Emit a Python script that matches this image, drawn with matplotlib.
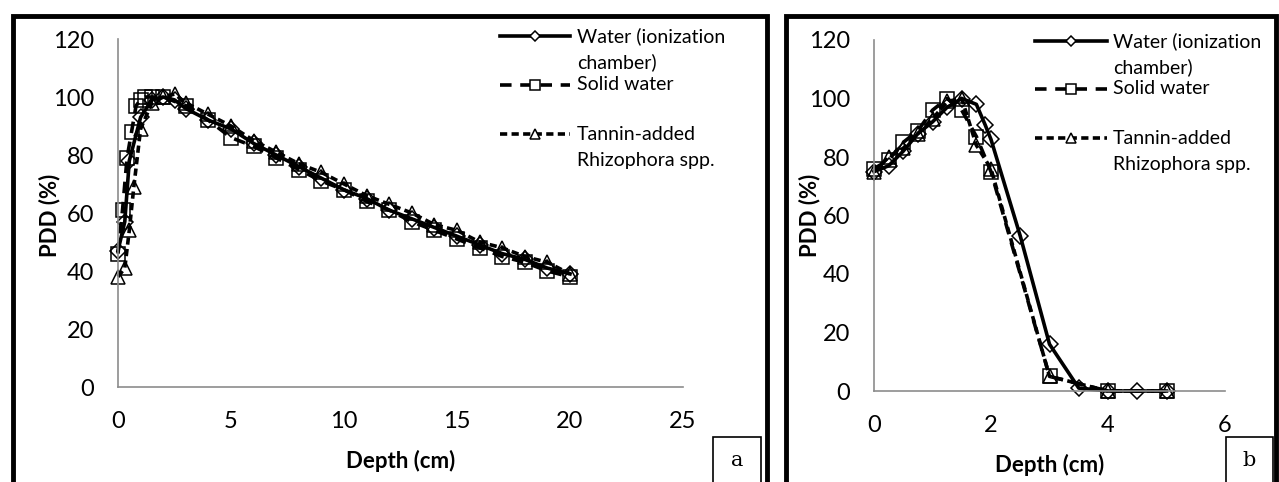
import matplotlib
matplotlib.use("Agg")
import matplotlib.pyplot as plt
from matplotlib.patches import Rectangle
from matplotlib.lines import Line2D

plt.rcParams['font.family'] = ['Lato', 'DejaVu Sans']

# panel a - depth dose (cm, %)
a_water_x = [0, 0.3, 0.5, 1, 1.5, 2, 2.5, 3, 4, 5, 6, 7, 8, 9, 10, 11, 12, 13, 14, 15, 16, 17, 18, 19, 20]
a_water_y = [47, 57, 78, 93, 99, 100, 99, 96, 92, 89, 84, 80, 76, 72, 68, 65, 61, 58, 55, 52, 49, 46, 44, 41, 39]
a_solid_x = [0, 0.2, 0.4, 0.6, 0.8, 1, 1.2, 1.5, 2, 3, 4, 5, 6, 7, 8, 9, 10, 11, 12, 13, 14, 15, 16, 17, 18, 19, 20]
a_solid_y = [46, 61, 79, 88, 97, 99, 100, 100, 100, 97, 92, 86, 83, 79, 75, 71, 68, 64, 61, 57, 54, 51, 48, 45, 43, 40, 38]
a_tannin_x = [0, 0.3, 0.5, 0.7, 1, 1.5, 2, 2.5, 3, 4, 5, 6, 7, 8, 9, 10, 11, 12, 13, 14, 15, 16, 17, 18, 19, 20]
a_tannin_y = [38, 41, 54, 69, 89, 98, 100, 101, 98, 94, 90, 85, 81, 77, 74, 70, 66, 63, 60, 56, 54, 50, 48, 45, 43, 39]

# panel b
b_water_x = [0, 0.25, 0.5, 0.75, 1, 1.25, 1.5, 1.75, 1.9, 2, 2.5, 3, 3.5, 4, 4.5, 5]
b_water_y = [75, 77, 82, 88, 92, 97, 100, 98, 91, 86, 53, 16, 1, 0, 0, 0]
b_solid_x = [0, 0.25, 0.5, 0.75, 1, 1.25, 1.5, 1.75, 2, 3, 4, 5]
b_solid_y = [76, 79, 85, 89, 96, 100, 96, 87, 75, 5, 0, 0]
b_tannin_x = [0, 0.25, 0.5, 0.75, 1, 1.25, 1.5, 1.75, 2, 3, 4, 5]
b_tannin_y = [75, 80, 83, 88, 93, 99, 100, 84, 76, 5, 0, 0]

labels = [["Water (ionization", "chamber)"], ["Solid water"], ["Tannin-added", "Rhizophora spp."]]

W, H = 1279, 482
fig = plt.figure(figsize=(W / 100, H / 100), dpi=100)

styles = [
    dict(ls='-', marker='D', ms=8, lms=5),
    dict(ls=(0, (3.2, 2.4)), marker='s', ms=10, lms=6.5),
    dict(ls=(0, (2.0, 1.2)), marker='^', ms=10, lms=7),
]


def fx(px):
    return px / W


def fy(py):
    return 1 - py / H


def panel(box, series, xmax, xstep, letter, lbox, ylab_x, leg):
    x0, y0, x1, y1 = box
    ax = fig.add_axes([fx(x0), fy(y1), (x1 - x0) / W, (y1 - y0) / H])
    for (x, y), st in zip(series, styles):
        ax.plot(x, y, color='black', lw=2.6, ls=st['ls'], marker=st['marker'],
                ms=st['ms'], mfc='none', mec='black', mew=1.1, clip_on=False)
    ax.set_xlim(0, xmax)
    ax.set_ylim(0, 120)
    ax.set_xticks(range(0, xmax + 1, xstep))
    ax.set_yticks(range(0, 121, 20))
    for s in ['top', 'right']:
        ax.spines[s].set_visible(False)
    for s in ['left', 'bottom']:
        ax.spines[s].set_color('#8c8c8c')
        ax.spines[s].set_linewidth(1.2)
    ax.tick_params(length=0, labelsize=17, pad=17)
    ax.set_xlabel("Depth (cm)", fontsize=16, fontweight='bold', labelpad=13)
    fig.text(fx(ylab_x), fy(215), "PDD (%)", rotation=90, fontsize=16,
             fontweight='bold', ha='center', va='center')

    # legend drawn by hand, Excel style (marker on first text line)
    lx0, lx1, tx, rows = leg
    for st, lab, ly in zip(styles, labels, rows):
        fig.add_artist(Line2D([fx(lx0), fx(lx1)], [fy(ly), fy(ly)], color='black',
                              lw=2.6, ls=st['ls'], transform=fig.transFigure))
        fig.add_artist(Line2D([fx((lx0 + lx1) / 2)], [fy(ly)], marker=st['marker'],
                              ms=st['lms'], mfc='white', mec='black', mew=1.1, ls='none',
                              transform=fig.transFigure))
        for i, t in enumerate(lab):
            fig.text(fx(tx), fy(ly + i * 26.5), t, fontsize=14, ha='left', va='center')

    fig.patches.append(Rectangle((fx(lbox[0]), fy(lbox[3])), (lbox[2] - lbox[0]) / W,
                                 (lbox[3] - lbox[1]) / H, transform=fig.transFigure,
                                 fill=False, ec='black', lw=1.2))
    fig.text(fx((lbox[0] + lbox[2]) / 2), fy(460), letter, family='DejaVu Serif',
             fontsize=15, ha='center', va='center')
    return ax


panel((118, 39, 683, 387), [(a_water_x, a_water_y), (a_solid_x, a_solid_y), (a_tannin_x, a_tannin_y)],
      25, 5, 'a', (713, 437, 761, 490), 50, (500, 570, 577, (36, 85, 134)))
panel((874, 40, 1225, 391), [(b_water_x, b_water_y), (b_solid_x, b_solid_y), (b_tannin_x, b_tannin_y)],
      6, 2, 'b', (1226, 437, 1273, 490), 810, (1035, 1107, 1113, (41, 89, 138)))

# thick outer frames
for x0, x1 in [(13, 767), (786, 1276)]:
    fig.patches.append(Rectangle((fx(x0), -0.05), (x1 - x0) / W, fy(15.5) + 0.05,
                                 transform=fig.transFigure, fill=False, ec='black', lw=3.5))

fig.savefig("out.png", dpi=100)
